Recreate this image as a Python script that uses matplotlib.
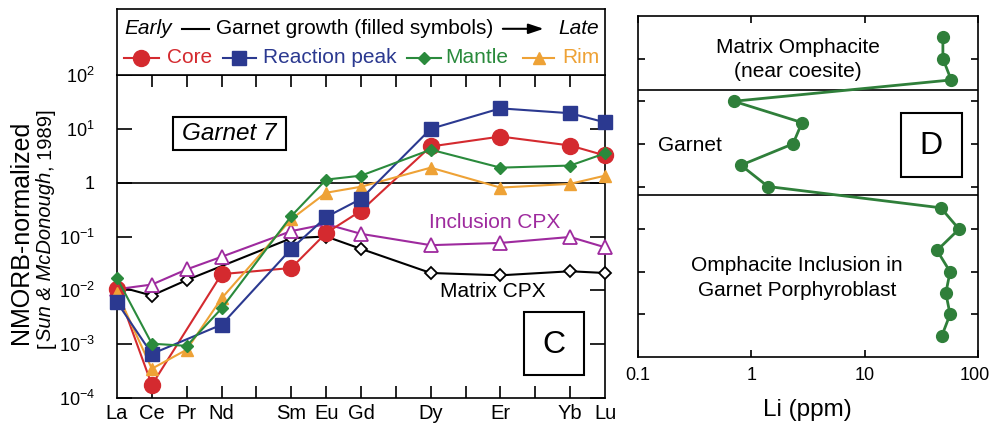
import numpy as np
import matplotlib
matplotlib.use('Agg')
import matplotlib.pyplot as plt
from matplotlib.patches import Rectangle
from matplotlib.transforms import ScaledTranslation
from matplotlib.ticker import FixedLocator, FixedFormatter, NullLocator

plt.rcParams['font.family'] = ['Liberation Sans', 'DejaVu Sans']
plt.rcParams['mathtext.fontset'] = 'custom'
plt.rcParams['mathtext.rm'] = 'Liberation Sans'
plt.rcParams['mathtext.it'] = 'Liberation Sans:italic'
plt.rcParams['mathtext.bf'] = 'Liberation Sans:bold'

# REE, NMORB-normalized (nan = no analysis)
elements = ['La', 'Ce', 'Pr', 'Nd', 'Sm', 'Eu', 'Gd', 'Dy', 'Er', 'Yb', 'Lu']
atomic_no = [57, 58, 59, 60, 62, 63, 64, 66, 68, 70, 71]
nan = np.nan
core = [0.0105, 0.000175, nan, 0.020, 0.026, 0.116, 0.30, 4.7, 7.2, 4.9, 3.2]
reaction_peak = [0.006, 0.00066, nan, 0.0023, 0.059, 0.23, 0.50, 10.0, 24.0, 19.5, 13.2]
mantle = [0.0168, 0.00102, 0.00093, 0.0046, 0.24, 1.14, 1.35, 4.1, 1.9, 2.08, 3.5]
rim = [0.009, 0.00035, 0.00079, 0.0071, 0.21, 0.65, 0.84, 1.9, 0.81, 0.95, 1.35]
inclusion_cpx = [0.0105, 0.0128, 0.0245, 0.042, 0.126, 0.17, 0.112, 0.069, 0.076, 0.098, 0.063]
matrix_cpx = [0.012, 0.008, 0.0155, nan, 0.093, 0.10, 0.059, 0.021, 0.019, 0.0226, 0.021]

# Li traverse, spot 1 at top
li_spot = list(range(1, 16))
li_ppm = [49, 49, 58, 0.70, 2.8, 2.33, 0.81, 1.40, 47, 68, 43.5, 56.7, 52, 56.7, 48]

RED = '#d42a2f'
BLUE = '#2b3990'
GREEN = '#2a8a3c'
ORANGE = '#eea236'
PURPLE = '#9e2a9e'
DGREEN = '#2f7f3a'
FS = 15

fig = plt.figure(figsize=(9.92, 4.28), dpi=100)
W, H = 992., 428.

def box(x0, x1, y0, y1):
    return [x0 / W, 1 - y1 / H, (x1 - x0) / W, (y1 - y0) / H]

ax = fig.add_axes(box(117, 605, 75, 398))
top = fig.add_axes(box(117, 605, 9, 75))
axd = fig.add_axes(box(638, 978, 16, 357))

for a in (ax, top, axd):
    for s in a.spines.values():
        s.set_linewidth(1.2)

# ---- panel C
x = np.array(atomic_no, dtype=float)

def series(vals, **kw):
    v = np.array(vals, dtype=float)
    m = ~np.isnan(v)
    ax.plot(x[m], v[m], clip_on=False, **kw)

series(matrix_cpx, color='k', lw=1.5, marker='D', ms=6, mfc='white', mec='k', mew=1.3, zorder=3)
series(inclusion_cpx, color=PURPLE, lw=1.5, marker='^', ms=10, mfc='white', mec=PURPLE, mew=1.3, zorder=3)
series(core, color=RED, lw=1.5, marker='o', ms=11.5, mec=RED, zorder=4)
series(rim, color=ORANGE, lw=1.5, marker='^', ms=9, mec=ORANGE, zorder=5)
series(reaction_peak, color=BLUE, lw=1.5, marker='s', ms=9.5, mec=BLUE, zorder=6)
series(mantle, color=GREEN, lw=1.5, marker='D', ms=6.5, mec=GREEN, zorder=7)

ax.axhline(1, color='k', lw=1.2, zorder=2)
ax.set_yscale('log')
ax.set_ylim(1e-4, 1e2)
ax.set_xlim(57, 71)
ax.yaxis.set_major_locator(FixedLocator([1e-4, 1e-3, 1e-2, 1e-1, 1, 10, 100]))
ax.yaxis.set_major_formatter(FixedFormatter(['$10^{-4}$', '$10^{-3}$', '$10^{-2}$', '$10^{-1}$',
                                             '1', '$10^{1}$', '$10^{2}$']))
ax.yaxis.set_minor_locator(NullLocator())
# tick marks at every lanthanide slot, element names only where analysed
ax.xaxis.remove_overlapping_locs = False
ax.set_xticks(range(58, 71))
ax.set_xticklabels([])
ax.set_xticks(atomic_no, minor=True)
ax.set_xticklabels(elements, minor=True)
ax.tick_params(axis='x', which='major', direction='in', top=True, length=8.5, width=1.2)
ax.tick_params(axis='x', which='minor', length=0, pad=4, labelsize=14.5)
ax.tick_params(axis='y', which='major', direction='in', right=True, length=11, width=1.2,
               pad=16, labelsize=13)

ax.text(0.2305, 0.82, 'Garnet 7', transform=ax.transAxes, ha='center', va='center',
        fontsize=17.5, style='italic')
ax.add_patch(Rectangle((0.115, 0.768), 0.231, 0.102, transform=ax.transAxes,
                       fill=False, lw=1.5, ec='k'))
ax.text(0.774, 0.542, 'Inclusion CPX', transform=ax.transAxes, ha='center', va='center',
        fontsize=FS, color=PURPLE)
ax.text(0.770, 0.331, 'Matrix CPX', transform=ax.transAxes, ha='center', va='center',
        fontsize=FS, color='k')
ax.add_patch(Rectangle((0.834, 0.071), 0.123, 0.195, transform=ax.transAxes,
                       fill=False, lw=1.5, ec='k', zorder=8))
ax.text(0.895, 0.165, 'C', transform=ax.transAxes, ha='center', va='center', fontsize=23)

fig.text(21 / W, 0.458, 'NMORB-normalized', rotation=90, ha='center', va='center', fontsize=18)

# second y-label line: mixed upright / italic pieces stacked bottom to top
renderer = fig.canvas.get_renderer()
pieces = [('[', 'normal'), ('Sun & McDonough', 'italic'), (', 1989]', 'normal')]
ypix = 80.0
for txt, st in pieces:
    t = fig.text(46 / W, ypix / H, txt, rotation=90, ha='center', va='bottom',
                 fontsize=14.5, style=st)
    ypix += t.get_window_extent(renderer).height + 1

# ---- header box with legend
top.set_xticks([])
top.set_yticks([])
top.set_xlim(0, 1)
top.set_ylim(0, 1)
r1, r2 = 0.70, 0.26
top.text(0.016, r1, 'Early', ha='left', va='center', fontsize=FS, style='italic')
top.plot([0.133, 0.189], [r1, r1], color='k', lw=1.5)
top.text(0.203, r1, 'Garnet growth (filled symbols)', ha='left', va='center', fontsize=FS)
top.annotate('', xy=(0.88, r1), xytext=(0.785, r1),
             arrowprops=dict(arrowstyle='-|>,head_length=0.9,head_width=0.3', color='k', lw=1.5))
top.text(0.988, r1, 'Late', ha='right', va='center', fontsize=FS, style='italic')

legend_items = [
    ('Core', RED, 'o', 11.5, 0.014, 0.086, 0.102),
    ('Reaction peak', BLUE, 's', 9.5, 0.217, 0.285, 0.299),
    ('Mantle', GREEN, 'D', 6.5, 0.594, 0.664, 0.672),
    ('Rim', ORANGE, '^', 9, 0.832, 0.896, 0.912),
]
for name, c, mk, ms, l0, l1, tx in legend_items:
    top.plot([l0, l1], [r2, r2], color=c, lw=1.5)
    top.plot([(l0 + l1) / 2], [r2], marker=mk, ms=ms, color=c, mec=c)
    top.text(tx, r2, name, ha='left', va='center', fontsize=FS, color=c)

# ---- panel D
axd.plot(li_ppm, li_spot, color=DGREEN, lw=2, marker='o', ms=8.5, mec=DGREEN, clip_on=False, zorder=4)
for yb in (3.47, 8.42):
    axd.axhline(yb, color='k', lw=1.2, zorder=2)
axd.set_xscale('log')
axd.set_xlim(0.1, 100)
axd.set_ylim(16, 0)
axd.xaxis.set_major_locator(FixedLocator([0.1, 1, 10, 100]))
axd.xaxis.set_major_formatter(FixedFormatter(['0.1', '1', '10', '100']))
axd.xaxis.set_minor_locator(NullLocator())
axd.set_yticks(range(2, 15, 2))
axd.set_yticklabels([])
axd.tick_params(axis='x', direction='in', top=True, length=5, width=1.2, pad=7, labelsize=13)
axd.tick_params(axis='y', direction='in', right=True, length=5, width=1.2)
# nudge the last decade label so it stays on the canvas
lab = axd.get_xticklabels()[-1]
lab.set_transform(lab.get_transform() + ScaledTranslation(-3 / 100, 0, fig.dpi_scale_trans))

axd.text(0.469, 0.909, 'Matrix Omphacite', transform=axd.transAxes, ha='center', va='center', fontsize=FS)
axd.text(0.469, 0.836, '(near coesite)', transform=axd.transAxes, ha='center', va='center', fontsize=FS)
axd.text(0.153, 0.619, 'Garnet', transform=axd.transAxes, ha='center', va='center', fontsize=FS)
axd.add_patch(Rectangle((0.774, 0.528), 0.179, 0.188, transform=axd.transAxes,
                        fill=False, lw=1.5, ec='k'))
axd.text(0.863, 0.618, 'D', transform=axd.transAxes, ha='center', va='center', fontsize=23)
axd.text(0.468, 0.267, 'Omphacite Inclusion in', transform=axd.transAxes, ha='center', va='center', fontsize=FS)
axd.text(0.468, 0.196, 'Garnet Porphyroblast', transform=axd.transAxes, ha='center', va='center', fontsize=FS)
fig.text(807 / W, 1 - 410 / H, 'Li (ppm)', ha='center', va='center', fontsize=17.5)

fig.savefig('out.png', dpi=100)
